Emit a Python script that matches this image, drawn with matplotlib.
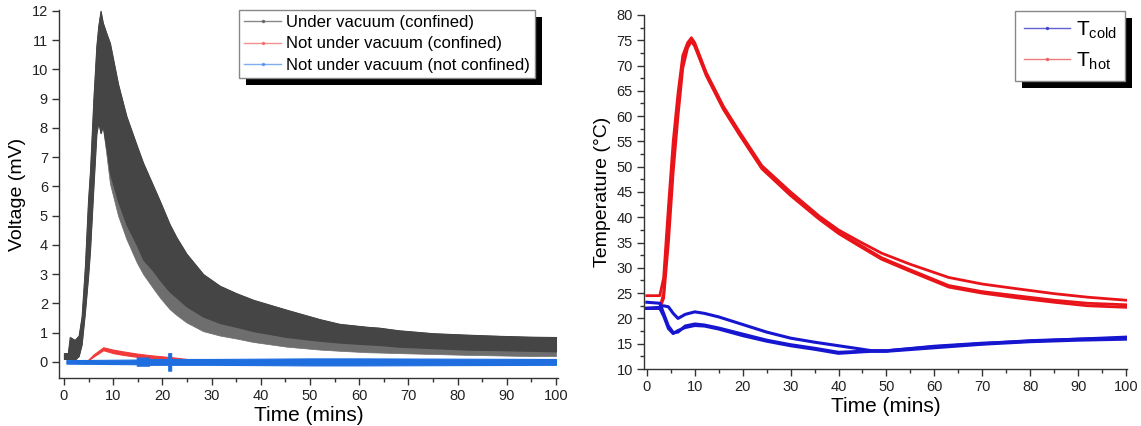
import matplotlib
matplotlib.use('Agg')
import matplotlib.pyplot as plt
import matplotlib.patheffects as pe
from matplotlib.ticker import MultipleLocator
from matplotlib.lines import Line2D

plt.rcParams['font.family'] = ['Liberation Sans', 'DejaVu Sans']

# ---- left panel: voltage envelopes (mV) ----
black_t = [0, 0.8, 1.2, 2.2, 3.0, 3.6, 4.27, 4.9, 5.3, 6.0, 6.6, 7.0, 7.45, 7.9, 8.7,
           9.35, 11.0, 12.7, 14.8, 16.1, 18.2, 19.5, 21.5, 22.9, 24.9, 28.3, 31.7, 35, 38.5,
           45.3, 52, 56, 61.6, 64, 68, 75, 82, 88.6, 95, 100]
black_hi = [0.3, 0.3, 0.85, 0.75, 0.9, 1.55, 3.26, 5.5, 6.5, 9.0, 10.8, 11.5, 12.0, 11.6, 11.2,
            10.9, 9.5, 8.4, 7.4, 6.8, 6.0, 5.5, 4.7, 4.25, 3.7, 3.0, 2.6, 2.35, 2.12,
            1.78, 1.46, 1.3, 1.2, 1.17, 1.08, 0.98, 0.93, 0.89, 0.86, 0.85]
black_lo = [0.1, 0.1, 0.1, 0.07, 0.2, 0.6, 1.7, 2.9, 3.8, 6.0, 7.8, 8.2, 7.82, 8.05, 7.25,
            6.45, 5.5, 4.7, 4.0, 3.5, 3.1, 2.8, 2.4, 2.2, 1.9, 1.55, 1.33, 1.2, 1.05,
            0.85, 0.72, 0.66, 0.6, 0.58, 0.52, 0.47, 0.42, 0.4, 0.38, 0.36]
# lowest reach of the lighter downward spikes under the dense band
black_spike = [0.1, 0.1, 0.1, 0.07, 0.2, 0.6, 1.7, 2.9, 3.8, 6.0, 7.8, 8.2, 7.82, 8.05, 7.0,
               6.1, 5.0, 4.2, 3.4, 3.0, 2.5, 2.2, 1.8, 1.6, 1.35, 1.05, 0.9, 0.8, 0.68,
               0.52, 0.42, 0.38, 0.33, 0.32, 0.3, 0.27, 0.24, 0.22, 0.2, 0.2]

red_t = [4.5, 6, 8, 10, 12, 15, 18, 20, 22, 25, 28]
red_hi = [0, 0.25, 0.5, 0.42, 0.36, 0.28, 0.22, 0.19, 0.16, 0.1, 0.05]
red_lo = [0, 0.18, 0.4, 0.3, 0.24, 0.17, 0.12, 0.1, 0.08, 0.05, 0.03]

blue_t = [0.5, 14.8, 14.8, 17.3, 17.3, 21.2, 21.2, 21.8, 21.8, 30, 50, 60, 100]
blue_hi = [0.06, 0.08, 0.15, 0.15, 0.1, 0.1, 0.3, 0.3, 0.1, 0.1, 0.12, 0.12, 0.1]
blue_lo = [-0.06, -0.08, -0.13, -0.13, -0.1, -0.1, -0.3, -0.3, -0.1, -0.1, -0.12, -0.12, -0.1]

volt_labels = ['Under vacuum (confined)', 'Not under vacuum (confined)', 'Not under vacuum (not confined)']

# ---- right panel: temperature (°C) ----
t_hot = [0, 2.7, 3.5, 4.5, 5.5, 6.5, 7.5, 8.5, 9.3, 10, 12.4, 16, 19.4, 24, 30, 36, 40, 44,
         49, 55, 63, 70, 77, 85, 92, 100]
hot1 = [24.5, 24.5, 28, 42, 55, 64.5, 72, 74.5, 75.5, 74.5, 68.6, 61.9, 56.8, 50.2, 45, 40.2, 37.5, 35.4,
        32.9, 30.7, 28.1, 26.8, 25.9, 24.9, 24.2, 23.6]
hot2 = [22.0, 22.0, 25, 38, 52, 62.5, 71, 74, 75, 74, 68.2, 61.5, 56.4, 49.8, 44.5, 39.8, 37.0, 34.8,
        32.0, 29.6, 26.5, 25.3, 24.5, 23.6, 23.0, 22.7]
hot3 = [22.0, 22.0, 24, 35, 49, 60, 69.5, 73.5, 74.8, 73.8, 68.0, 61.3, 56.2, 49.6, 44.3, 39.6, 36.8, 34.5,
        31.7, 29.3, 26.2, 25.0, 24.1, 23.2, 22.5, 22.2]

t_cold = [0, 2.7, 3.5, 4.5, 5.5, 6.5, 8, 10, 12, 15, 20, 25, 30, 35, 40, 45, 47, 50, 60, 70, 80, 90, 100]
cold1 = [22.0, 22.2, 22.5, 22.3, 21, 20, 20.8, 21.3, 21.0, 20.3, 18.8, 17.3, 16.1, 15.3, 14.6, 13.9,
         13.6, 13.6, 14.4, 15.0, 15.6, 15.9, 16.1]
cold2 = [23.2, 23.0, 21, 18.5, 17.2, 17.3, 18.5, 18.9, 18.7, 18.1, 16.9, 15.7, 14.8, 14.1, 13.3, 13.5,
         13.6, 13.6, 14.5, 15.1, 15.5, 15.9, 16.3]
cold3 = [22.0, 22.0, 20.5, 18, 17.0, 17.6, 18.2, 18.6, 18.5, 17.9, 16.6, 15.5, 14.6, 13.9, 13.1, 13.4,
         13.5, 13.5, 14.2, 14.9, 15.4, 15.7, 15.9]

fig = plt.figure(figsize=(11.41, 4.26), dpi=100)
ax1 = fig.add_axes([0.0517, 0.1127, 0.4373, 0.8638])
ax2 = fig.add_axes([0.5644, 0.1338, 0.4233, 0.8310])

shadow = [pe.SimplePatchShadow(offset=(5, -5), shadow_rgbFace='black', alpha=1.0), pe.Normal()]

# left panel
c_black, c_red, c_blue = '#454545', '#f23a3a', '#1f6ee0'
ax1.fill_between(black_t, black_spike, black_hi, color='#6e6e6e', lw=0.5, edgecolor='#6e6e6e')
ax1.fill_between(black_t, black_lo, black_hi, color=c_black, lw=0.8, edgecolor=c_black)
ax1.fill_between(red_t, red_lo, red_hi, color=c_red, lw=0.8, edgecolor=c_red)
ax1.fill_between(blue_t, blue_lo, blue_hi, color=c_blue, lw=0.8, edgecolor=c_blue)
ax1.set_xlim(-1.0, 100.4)
ax1.set_ylim(-0.55, 12.03)
ax1.xaxis.set_major_locator(MultipleLocator(10))
ax1.xaxis.set_minor_locator(MultipleLocator(5))
ax1.yaxis.set_major_locator(MultipleLocator(1))
ax1.set_xlabel('Time (mins)', fontsize=15, labelpad=2)
ax1.set_ylabel('Voltage (mV)', fontsize=14, labelpad=4)

h1 = [Line2D([], [], color=c, lw=1, marker='o', markersize=1.5, alpha=0.7)
      for c in ['#555555', '#f06060', '#4a8ae8']]
leg1 = ax1.legend(h1, volt_labels, loc='upper right', bbox_to_anchor=(0.954, 1.0),
                  borderaxespad=0, fontsize=12, handlelength=2.2, labelspacing=0.38,
                  handletextpad=0.3, borderpad=0.3, fancybox=False, framealpha=1)
leg1.get_frame().set_edgecolor('#888888')
leg1.get_frame().set_path_effects(shadow)

# right panel
c_hot, c_cold = '#e8141a', '#1616d0'
for y in (hot1, hot2, hot3):
    ax2.plot(t_hot, y, color=c_hot, lw=2.0)
for y in (cold1, cold2, cold3):
    ax2.plot(t_cold, y, color=c_cold, lw=2.2)
ax2.set_xlim(-0.6, 100.2)
ax2.set_ylim(10, 80)
ax2.xaxis.set_major_locator(MultipleLocator(10))
ax2.xaxis.set_minor_locator(MultipleLocator(5))
ax2.yaxis.set_major_locator(MultipleLocator(5))
ax2.yaxis.set_minor_locator(MultipleLocator(2.5))
ax2.set_xlabel('Time (mins)', fontsize=15, labelpad=2)
ax2.set_ylabel('Temperature (°C)', fontsize=14, labelpad=4)

h2 = [Line2D([], [], color=c, lw=1, marker='o', markersize=1.5, alpha=0.8)
      for c in ['#3a3ac8', '#e85a5a']]
leg2 = ax2.legend(h2, [r'T$_{\mathregular{cold}}$', r'T$_{\mathregular{hot}}$'], loc='upper right',
                  bbox_to_anchor=(0.996, 1.01), borderaxespad=0, fontsize=15, handlelength=2.2,
                  labelspacing=0.45, handletextpad=0.3, borderpad=0.4, fancybox=False, framealpha=1)
leg2.get_frame().set_edgecolor('#888888')
leg2.get_frame().set_path_effects(shadow)

for ax in (ax1, ax2):
    for s in ('top', 'right'):
        ax.spines[s].set_visible(False)
    for s in ('left', 'bottom'):
        ax.spines[s].set_color('#333333')
        ax.spines[s].set_linewidth(1.0)
    ax.tick_params(which='major', direction='out', length=5, width=1, color='#333333',
                   labelsize=10.5, labelcolor='#222222', pad=3)
    ax.tick_params(which='minor', direction='out', length=3, width=1, color='#333333')

fig.savefig('out.png', dpi=100)
